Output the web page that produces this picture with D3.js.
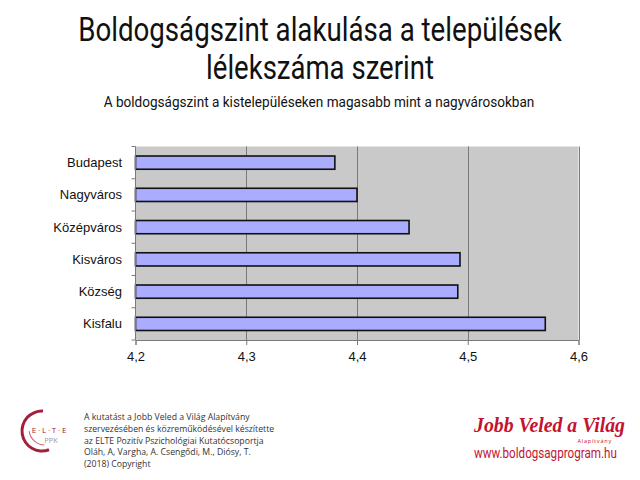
<!DOCTYPE html>
<html>
<head>
<meta charset="utf-8">
<script src="https://cdn.jsdelivr.net/npm/d3@7"></script>
<style>
  body { margin: 0; background: #fff; }
  svg { display: block; }
</style>
</head>
<body>
<script>
  // data
  var categories = ['Budapest', 'Nagyváros', 'Középváros', 'Kisváros', 'Község', 'Kisfalu'];
  var values = [4.38, 4.40, 4.447, 4.493, 4.491, 4.57];
  var xTicks = [4.2, 4.3, 4.4, 4.5, 4.6];
  var creditLines = [
    'A kutatást a Jobb Veled a Világ Alapítvány',
    'szervezésében és közreműködésével készítette',
    'az ELTE Pozitív Pszichológiai Kutatócsoportja',
    'Oláh, A, Vargha, A. Csengődi, M., Diósy, T.',
    '(2018) Copyright'
  ];

  var svg = d3.select('body')
    .append('svg')
    .attr('width', 640)
    .attr('height', 480);

  // squeeze a text horizontally to a given width (condensed look)
  var fitText = function (g, x, y, width, size, family, anchor, str) {
    var grp = g.append('g');
    var t = grp.append('text')
      .attr('x', 0).attr('y', 0)
      .attr('font-family', family)
      .attr('font-size', size)
      .attr('text-anchor', anchor)
      .text(str);
    var k = width / t.node().getComputedTextLength();
    grp.attr('transform', 'translate(' + x + ',' + y + ') scale(' + k + ',1)');
    return t;
  }

  // titles
  var titles = svg.append('g').attr('fill', '#111');
  fitText(titles, 320, 41, 484, 33, 'Roboto', 'middle', 'Boldogságszint alakulása a települések');
  fitText(titles, 320, 79, 228, 33, 'Roboto', 'middle', 'lélekszáma szerint');
  fitText(titles, 319, 107, 431, 15, 'Roboto', 'middle', 'A boldogságszint a kistelepüléseken magasabb mint a nagyvárosokban');

  // chart
  var margin = {left: 135.5, top: 146.5, right: 578.5, bottom: 340};

  var x = d3.scaleLinear()
    .domain([xTicks[0], xTicks[xTicks.length - 1]])
    .range([margin.left, margin.right]);

  var y = d3.scaleBand()
    .domain(categories)
    .range([margin.top, margin.bottom])
    .paddingInner(0.59)
    .paddingOuter(0.295);

  var yEdges = d3.scaleLinear()
    .domain([0, categories.length])
    .range([margin.top, margin.bottom]);

  var chart = svg.append('g');

  chart.append('rect')
    .attr('x', margin.left)
    .attr('y', margin.top)
    .attr('width', margin.right - margin.left)
    .attr('height', margin.bottom - margin.top)
    .attr('fill', '#c9c9c9');

  chart.selectAll('line.grid')
    .data(xTicks.slice(1))
    .enter()
    .append('line')
    .attr('class', 'grid')
    .attr('x1', function (d) { return Math.round(x(d)) + 0.5; })
    .attr('x2', function (d) { return Math.round(x(d)) + 0.5; })
    .attr('y1', margin.top)
    .attr('y2', margin.bottom)
    .attr('stroke', '#7a7a7a')
    .attr('stroke-width', 1);

  chart.selectAll('rect.bar')
    .data(values)
    .enter()
    .append('rect')
    .attr('class', 'bar')
    .attr('x', x(xTicks[0]))
    .attr('y', function (d, i) { return y(categories[i]); })
    .attr('width', function (d) { return x(d) - x(xTicks[0]); })
    .attr('height', y.bandwidth())
    .attr('fill', '#a9acff')
    .attr('stroke', '#111')
    .attr('stroke-width', 1.6);

  // y axis: line, ticks at band edges, labels
  var yAxis = chart.append('g');
  yAxis.append('line')
    .attr('x1', margin.left).attr('x2', margin.left)
    .attr('y1', margin.top).attr('y2', margin.bottom)
    .attr('stroke', '#7a7a7a');
  yAxis.selectAll('line.tick')
    .data(d3.range(categories.length + 1))
    .enter()
    .append('line')
    .attr('class', 'tick')
    .attr('x1', margin.left - 4).attr('x2', margin.left)
    .attr('y1', function (d) { return yEdges(d); })
    .attr('y2', function (d) { return yEdges(d); })
    .attr('stroke', '#7a7a7a');
  yAxis.selectAll('text')
    .data(categories)
    .enter()
    .append('text')
    .attr('x', 122)
    .attr('y', function (d) { return y(d) + y.bandwidth() / 2; })
    .attr('dy', '0.35em')
    .attr('text-anchor', 'end')
    .attr('font-family', 'Liberation Sans, Arial, sans-serif')
    .attr('font-size', 13)
    .attr('fill', '#111')
    .text(function (d) { return d; });

  // x axis
  var xAxis = chart.append('g')
    .attr('transform', 'translate(0,' + margin.bottom + ')')
    .call(d3.axisBottom(x)
      .tickValues(xTicks)
      .tickSize(5)
      .tickFormat(function (d) { return d3.format('.1f')(d).replace('.', ','); }));
  xAxis.select('.domain').attr('stroke', '#7a7a7a');
  xAxis.selectAll('.tick line').attr('stroke', '#7a7a7a');
  xAxis.selectAll('.tick text')
    .attr('font-family', 'Liberation Sans, Arial, sans-serif')
    .attr('font-size', 13)
    .attr('fill', '#111')
    .attr('y', 12);

  // footer: ELTE logo
  var logo = svg.append('g');
  logo.append('path')
    .attr('d', d3.arc()({innerRadius: 18.5, outerRadius: 21.5, startAngle: -3.5, endAngle: 0.05}))
    .attr('transform', 'translate(42,431)')
    .attr('fill', '#a3203a');
  logo.append('path')
    .attr('d', d3.arc()({innerRadius: 15.5, outerRadius: 16.5, startAngle: -3.1, endAngle: -1.7}))
    .attr('transform', 'translate(45,429)')
    .attr('fill', '#c66070');
  logo.append('text')
    .attr('x', 50).attr('y', 433)
    .attr('text-anchor', 'middle')
    .attr('font-family', 'Open Sans')
    .attr('font-size', 8)
    .attr('letter-spacing', 1.8)
    .attr('fill', '#a3203a')
    .text('E·L·T·E');
  logo.append('text')
    .attr('x', 51).attr('y', 443)
    .attr('text-anchor', 'middle')
    .attr('font-family', 'Open Sans')
    .attr('font-size', 7.5)
    .attr('fill', '#999')
    .text('PPK');

  // footer: credits
  svg.append('g')
    .selectAll('text')
    .data(creditLines)
    .enter()
    .append('text')
    .attr('x', 84)
    .attr('y', function (d, i) { return 420 + i * 11.8; })
    .attr('font-family', 'Open Sans')
    .attr('font-size', 8.7)
    .attr('fill', '#333')
    .text(function (d) { return d; });

  // footer: foundation
  var brand = svg.append('g').attr('fill', '#c4122f');
  fitText(brand, 474, 432, 148, 22, 'Liberation Serif', 'start', 'Jobb Veled a Világ')
    .attr('font-style', 'italic')
    .attr('font-weight', 'bold');
  brand.append('text')
    .attr('x', 612).attr('y', 443)
    .attr('text-anchor', 'end')
    .attr('font-family', 'Open Sans')
    .attr('font-size', 5.5)
    .attr('letter-spacing', 0.8)
    .text('Alapítvány');
  fitText(brand, 474, 458, 143, 14, 'Roboto', 'start', 'www.boldogsagprogram.hu');
</script>
</body>
</html>
